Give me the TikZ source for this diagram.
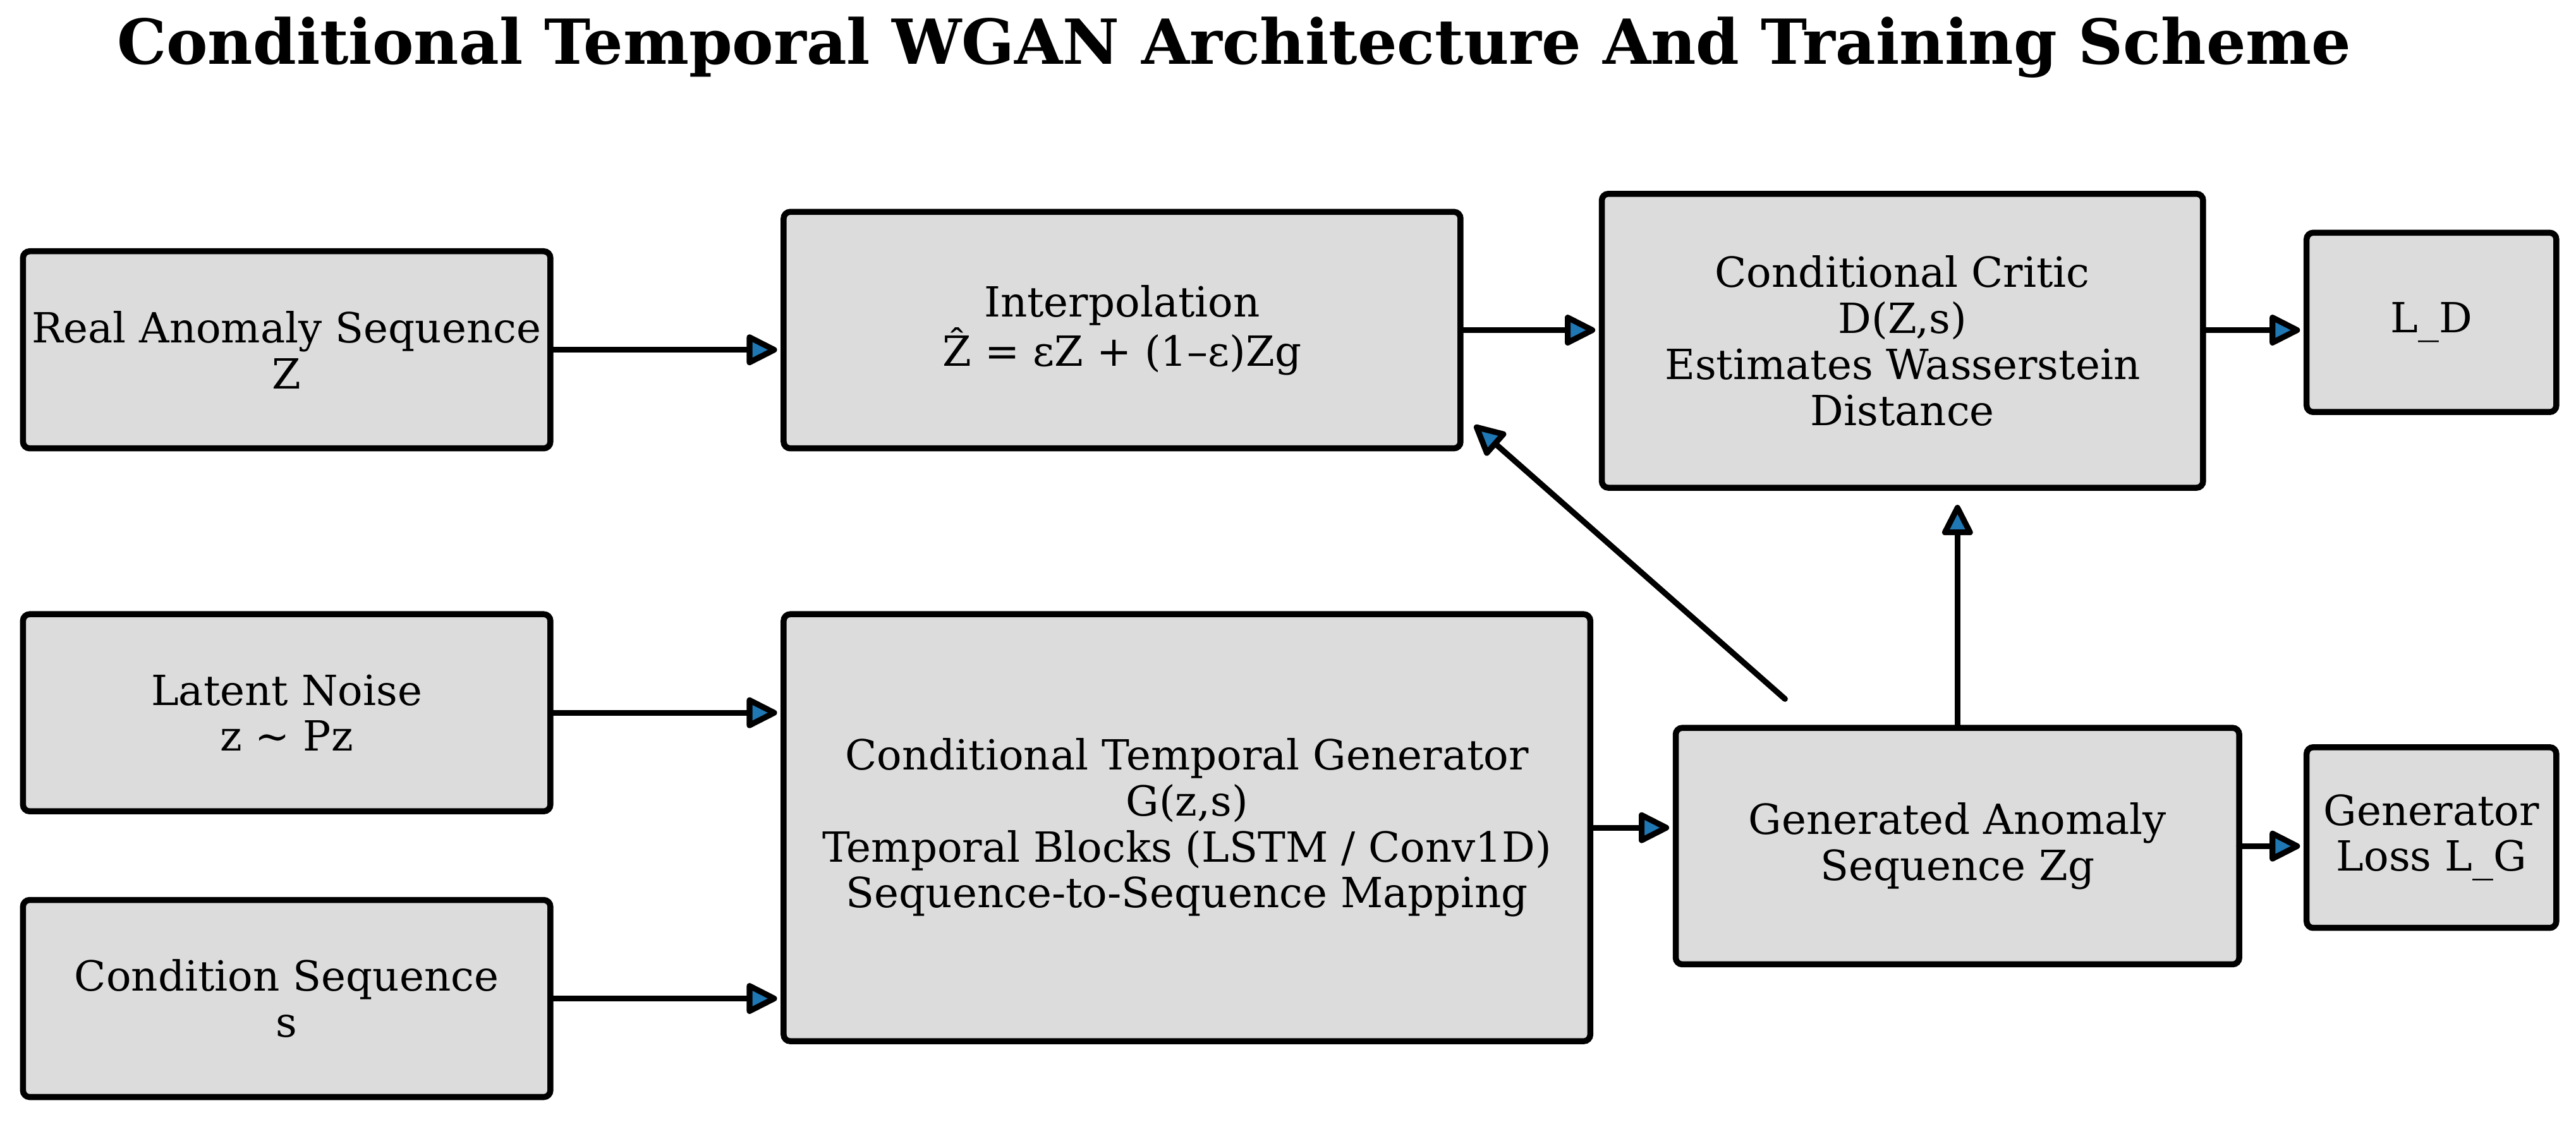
\documentclass[tikz,border=0pt]{standalone}
\usepackage{fontspec}
\setmainfont{DejaVu Serif}
\usetikzlibrary{arrows.meta,positioning}
\definecolor{unitfill}{RGB}{220,220,220}
\definecolor{tipblue}{RGB}{31,119,180}

\begin{document}
\begin{tikzpicture}[
  font=\fontsize{18}{19.9}\selectfont,
  node distance=1.3cm,
  unit/.style={draw,line width=2.6pt,rounded corners=0.1cm,fill=unitfill,align=center,inner sep=0pt,outer sep=0pt},
  side/.style={unit,minimum width=8.025cm,minimum height=3cm},
  arr/.style={-{Triangle[length=0.52cm,width=0.5cm,fill=tipblue,round]},line width=2.5pt,line cap=round,shorten >=0.1cm},
]
\useasboundingbox (0,0) rectangle (39.2,-17.075);
\node[anchor=base,font=\fontsize{26.9}{30}\selectfont\bfseries] (title) at (18.78,-0.98) {Conditional Temporal WGAN Architecture And Training Scheme};

% inputs
\node[side] (real) at (4.3625,-5.325) {Real Anomaly Sequence\\Z};
\node[side,below=2.525cm of real] (noise) {Latent Noise\\z \textasciitilde{} Pz};
\node[side,below=1.35cm of noise] (cond) {Condition Sequence\\s};

% critic branch
\node[unit,minimum width=10.3cm,minimum height=3.6cm,right=3.55cm of real,yshift=0.3cm] (interp) {Interpolation\\Ẑ = εZ + (1–ε)Zg};
\node[unit,minimum width=9.15cm,minimum height=4.475cm,right=2.15cm of interp,yshift=-0.1625cm] (critic) {Conditional Critic\\D(Z,s)\\Estimates Wasserstein\\Distance};
\node[unit,minimum width=3.8cm,minimum height=2.73cm,right=1.575cm of critic,yshift=0.28cm] (ld) {L\_D};

% generator branch
\node[unit,minimum width=12.275cm,minimum height=6.5cm,below=2.525cm of interp.south west,anchor=north west] (gen) {Conditional Temporal Generator\\G(z,s)\\Temporal Blocks (LSTM / Conv1D)\\Sequence-to-Sequence Mapping};
\node[unit,minimum width=8.575cm,minimum height=3.6cm,right=1.3cm of gen,yshift=-0.28cm] (fake) {Generated Anomaly\\Sequence Zg};
\node[unit,minimum width=3.8cm,minimum height=2.75cm,right=1.025cm of fake,yshift=0.13cm] (lg) {Generator\\Loss L\_G};

\draw[arr] (real.east) -- (real.east -| interp.west);
\draw[arr] (interp.east) -- (interp.east -| critic.west);
\draw[arr] (interp.east -| critic.east) -- (interp.east -| ld.west);
\draw[arr] (noise.east) -- (noise.east -| gen.west);
\draw[arr] (cond.east) -- (cond.east -| gen.west);
\draw[arr] (gen.east) -- (gen.east -| fake.west);
\draw[arr] (fake.east) -- (fake.east -| lg.west);
\draw[arr,shorten >=0.26cm] (fake.north) -- (fake.north |- critic.south);
\draw[arr,shorten >=0pt] ([xshift=1.6625cm,yshift=0.44cm]fake.north west) -- ([xshift=0.2125cm,yshift=0.35cm]interp.south east);
\end{tikzpicture}
\end{document}
